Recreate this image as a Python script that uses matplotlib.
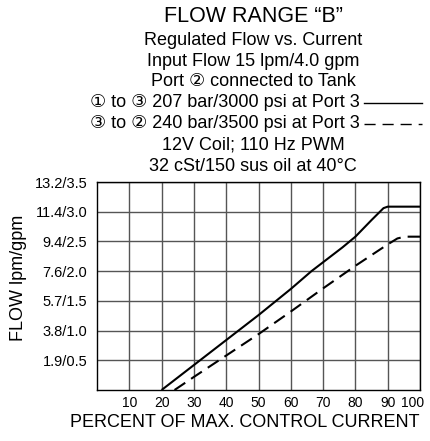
import matplotlib.pyplot as plt
import matplotlib.transforms as mtransforms
from matplotlib.lines import Line2D

# Datos (x = % de corriente, y = gpm)
pct_solid = [20, 30, 40, 50, 60, 66.4, 70, 76, 80, 85, 88.7, 90, 100]
gpm_solid = [0, 0.42, 0.84, 1.26, 1.70, 2.0, 2.15, 2.40, 2.58, 2.86, 3.06, 3.085, 3.085]

pct_dash = [24, 30, 40, 50, 60, 70, 80, 90, 93, 95.3, 100]
gpm_dash = [0, 0.22, 0.58, 0.94, 1.32, 1.71, 2.09, 2.45, 2.55, 2.58, 2.58]

x_ticks = [10, 20, 30, 40, 50, 60, 70, 80, 90, 100]
y_ticks = [0.5, 1.0, 1.5, 2.0, 2.5, 3.0, 3.5]
y_labels = ['1.9/0.5', '3.8/1.0', '5.7/1.5', '7.6/2.0', '9.4/2.5', '11.4/3.0', '13.2/3.5']

title = 'FLOW RANGE \u201cB\u201d'
subtitle = ['Regulated Flow vs. Current',
            'Input Flow 15 lpm/4.0 gpm',
            'Port \u2461 connected to Tank',
            '\u2460 to \u2462 207 bar/3000 psi at Port 3',
            '\u2462 to \u2461 240 bar/3500 psi at Port 3',
            '12V Coil; 110 Hz PWM',
            '32 cSt/150 sus oil at 40\u00b0C']

fam = ['Liberation Sans', 'DejaVu Sans']
plt.rcParams['font.family'] = fam

W, H = 430, 441
fig = plt.figure(figsize=(W / 100, H / 100), dpi=100)
ax = fig.add_axes([97 / W, 1 - 390 / H, 323 / W, 208 / H])

# Curvas
ax.plot(pct_solid, gpm_solid, color='black', lw=1.5, solid_capstyle='butt')
ax.plot(pct_dash, gpm_dash, color='black', lw=1.5, dashes=(6.2, 3.4))

ax.set_xlim(0, 100)
ax.set_ylim(0, 3.5)
ax.set_xticks(x_ticks)
ax.set_yticks(y_ticks)
ax.set_yticklabels(y_labels)
ax.tick_params(length=0)
ax.tick_params(axis='y', pad=7, labelsize=10.5)
ax.tick_params(axis='x', pad=4, labelsize=10)
# el "100" se corre un poco a la izquierda para no salirse del borde
lab100 = ax.get_xticklabels()[-1]
lab100.set_transform(lab100.get_transform() +
                     mtransforms.ScaledTranslation(-7 / 100, 0, fig.dpi_scale_trans))
ax.grid(True, color='#555555', lw=1.0)
for s in ax.spines.values():
    s.set_color('black')
    s.set_linewidth(1.0)

# Títulos
cx = 253 / W
fig.text(cx, 1 - 21.7 / H, title, ha='center', va='baseline', fontsize=15.5)
baselines = [45, 65.7, 86, 107.3, 128.3, 149.3, 170.7]
for i, (txt, b) in enumerate(zip(subtitle, baselines)):
    if i in (3, 4):
        fig.text(360 / W, 1 - b / H, txt, ha='right', va='baseline', fontsize=13)
    else:
        fig.text(cx, 1 - b / H, txt, ha='center', va='baseline', fontsize=13)

# Muestras de línea en la leyenda
fig.add_artist(Line2D([364 / W, 422 / W], [1 - 103 / H, 1 - 103 / H], color='black', lw=1.0))
fig.add_artist(Line2D([364 / W, 422 / W], [1 - 124 / H, 1 - 124 / H], color='black', lw=1.0,
                      dashes=(8, 5)))

# Etiquetas de ejes
fig.text(245 / W, 1 - 427 / H, 'PERCENT OF MAX. CONTROL CURRENT', ha='center', va='baseline',
         fontsize=13)
fig.text(19 / W, 1 - 278 / H, 'FLOW lpm/gpm', rotation=90, ha='center', va='center', fontsize=13)

plt.savefig('out.png', dpi=100)
